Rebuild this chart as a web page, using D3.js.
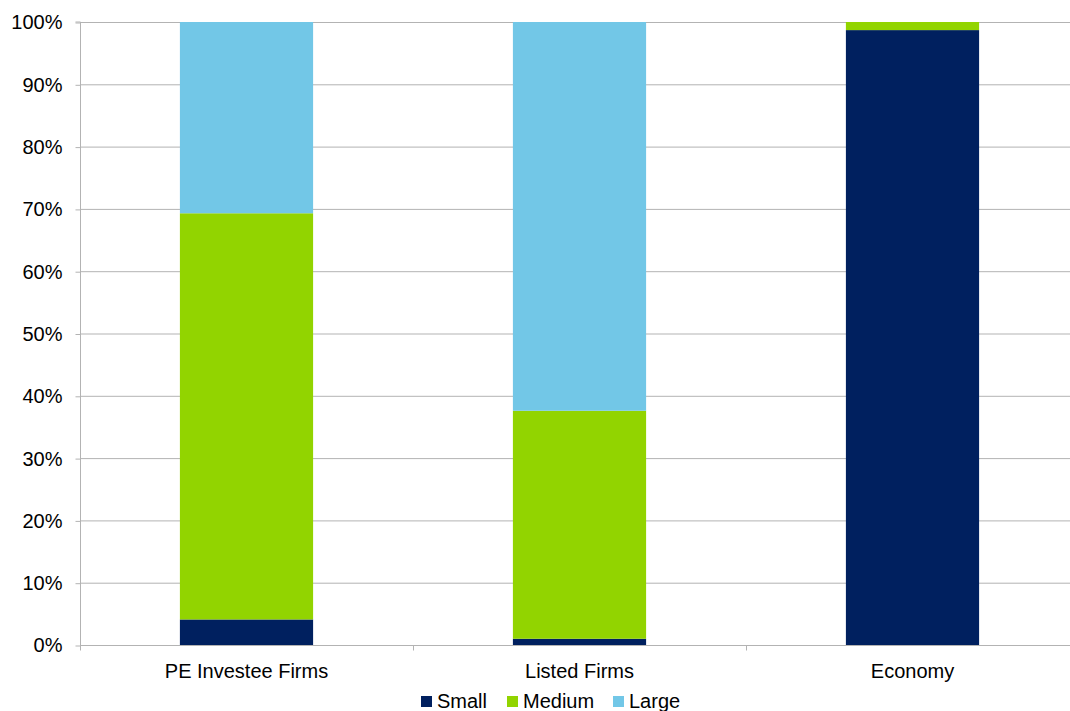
<!DOCTYPE html>
<html><head><meta charset="utf-8">
<script src="https://cdn.jsdelivr.net/npm/d3@7"></script>
<style>body{margin:0;background:#fff;}svg{display:block;font-family:"Liberation Sans",Arial,sans-serif;}</style>
</head><body>
<svg id="c" width="1070" height="711"></svg>
<script>
const categories = ["PE Investee Firms", "Listed Firms", "Economy"];
const seriesNames = ["Small", "Medium", "Large"];
const small = [4.1, 1.0, 98.7];
const medium = [65.2, 36.6, 1.3];
const large = [30.7, 62.4, 0.0];
const yTicks = [0,10,20,30,40,50,60,70,80,90,100];
const colors = ["#00205f", "#92d400", "#72c7e7"];

const svg = d3.select("#c");
const m = {left:80, right:1079, top:22, bottom:645};
const x = d3.scaleBand().domain(categories).range([m.left, m.right]).paddingInner(0).paddingOuter(0);
const y = d3.scaleLinear().domain([0,100]).range([m.bottom, m.top]);

// gridlines
svg.append("g").selectAll("line").data(yTicks.filter(d=>d>0)).join("line")
  .attr("x1", m.left).attr("x2", m.right)
  .attr("y1", d=>y(d)+0.5).attr("y2", d=>y(d)+0.5)
  .attr("stroke", "#b3b3b3").attr("stroke-width", 1);

const rows = categories.map((c,i)=>({cat:c, Small:small[i], Medium:medium[i], Large:large[i]}));
const stack = d3.stack().keys(seriesNames)(rows);
const bw = x.bandwidth()*0.4;
svg.append("g").selectAll("g").data(stack).join("g")
  .attr("fill", (d,i)=>colors[i])
  .selectAll("rect").data(d=>d).join("rect")
  .attr("x", d=>x(d.data.cat)+x.bandwidth()/2-bw/2)
  .attr("width", bw)
  .attr("y", d=>y(d[1]))
  .attr("height", d=>y(d[0])-y(d[1]));

// y axis
const yAxis = d3.axisLeft(y).tickValues(yTicks).tickFormat(d=>d+"%").tickSize(5).tickPadding(13);
const ya = svg.append("g").attr("transform", `translate(${m.left+0.5},0.5)`).call(yAxis);
ya.select(".domain").attr("stroke","#b3b3b3").attr("d", `M-5,${m.top-0.5}H0V${m.bottom}`);
ya.selectAll(".tick line").attr("stroke","#b3b3b3");
ya.selectAll("text").attr("font-size", 20).attr("fill","#000").attr("font-family","Liberation Sans, Arial, sans-serif");

// x axis
const xa = svg.append("g").attr("transform", `translate(0,${m.bottom+0.5})`);
xa.append("line").attr("x1", m.left).attr("x2", m.right).attr("stroke","#b3b3b3");
const bounds = categories.map(c=>x(c)).concat([m.right]);
xa.selectAll("line.t").data(bounds.slice(0,3)).join("line").attr("class","t")
  .attr("x1", d=>Math.round(d)+0.5).attr("x2", d=>Math.round(d)+0.5).attr("y1",0).attr("y2",5).attr("stroke","#b3b3b3");
xa.selectAll("text").data(categories).join("text")
  .attr("x", d=>x(d)+x.bandwidth()/2).attr("y", 32)
  .attr("text-anchor","middle").attr("font-size",20).attr("fill","#000").text(d=>d);

// legend
const legX = [421, 507, 613];
const lg = svg.append("g");
seriesNames.forEach((s,i)=>{
  lg.append("rect").attr("x", legX[i]).attr("y", 696).attr("width", 11).attr("height", 11).attr("fill", colors[i]);
  lg.append("text").attr("x", legX[i]+16).attr("y", 708).attr("font-size",20).attr("fill","#000").text(s);
});
</script>
</body></html>
